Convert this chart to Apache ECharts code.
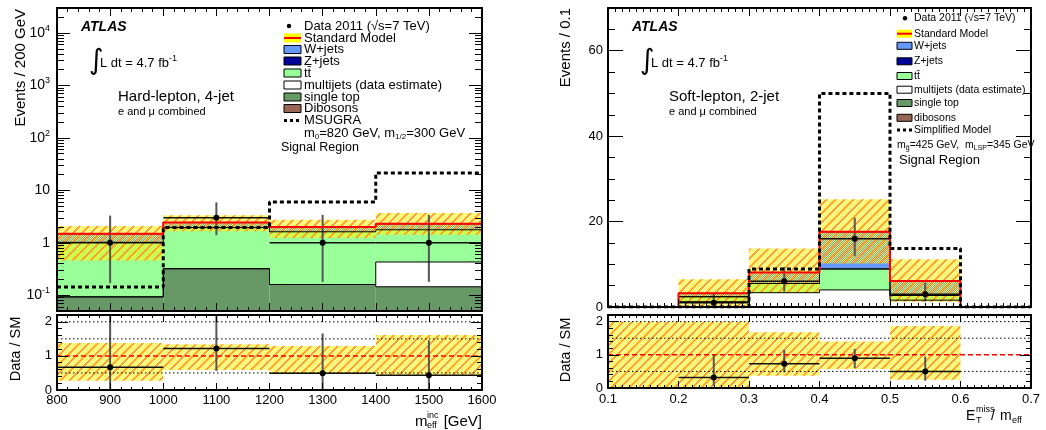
<!DOCTYPE html>
<html>
<head>
<meta charset="utf-8">
<script src="https://cdn.jsdelivr.net/npm/echarts@6/dist/echarts.min.js"></script>
<style>
html, body { margin: 0; padding: 0; background: #fff; }
#chart { width: 1046px; height: 430px; }
</style>
</head>
<body>
<div id="chart"></div>
<script>
// hard-lepton, 4-jet (left panel)
const hlEdges = [800, 1000, 1200, 1400, 1600];
const hlSingleTop = [0.093, 0.32, 0.16, 0.145];
const hlMultijets = [0, 0, 0, 0.285];
const hlTtbar = [0.927, 1.63, 1.46, 1.34];
const hlWjets = [0.46, 0.49, 0.38, 0.53];
const hlBandLo = [0.46, 1.65, 1.23, 1.42];
const hlBandHi = [2.1, 3.35, 2.74, 3.68];
const hlSignal = [0.143, 1.95, 6.0, 21.5];
const hlData = [1, 3, 1, 1];
const hlDataLo = [0.17, 1.4, 0.18, 0.18];
const hlDataHi = [3.3, 5.9, 3.4, 3.4];
const hlRatio = [0.67, 1.22, 0.49, 0.43];
const hlRatioLo = [0, 0.56, 0, 0];
const hlRatioHi = [2.5, 2.5, 1.66, 1.46];
const hlRatioBandLo = [0.27, 0.59, 0.49, 0.42];
const hlRatioBandHi = [1.38, 1.34, 1.29, 1.61];

// soft-lepton, 2-jet (right panel)
const slEdges = [0.1, 0.2, 0.3, 0.4, 0.5, 0.6, 0.7];
const slMultijets = [0, 1.25, 3.35, 4.0, 1.6, 0];
const slTtbar = [0, 1.15, 2.15, 4.9, 1.1, 0];
const slZjets = [0, 0, 0, 0, 0, 0];
const slWjets = [0, 0.8, 2.6, 8.7, 3.4, 0];
const slBandLo = [null, 0, 3.3, 10.2, 1.25, null];
const slBandHi = [null, 6.5, 13.7, 25.2, 11.2, null];
const slSignal = [0, 0, 8.9, 50, 13.7, 0];
const slData = [null, 1, 6, 16, 3, null];
const slDataLo = [null, 0.17, 3.6, 11.9, 1.3, null];
const slDataHi = [null, 3.3, 9.4, 20.9, 5.7, null];
const slRatio = [null, 0.32, 0.73, 0.9, 0.5, null];
const slRatioLo = [null, 0.07, 0.47, 0.6, 0.22, null];
const slRatioHi = [null, 1.0, 1.15, 1.18, 0.95, null];
const slRatioBandLo = [0, 0, 0.37, 0.57, 0.25, null];
const slRatioBandHi = [2.0, 2.0, 1.68, 1.4, 1.87, null];

// ticks
const hlYTicks = [0.1, 1, 10, 100, 1000, 10000];
const hlYTickText = ['10{s|-1}', '1', '10', '10{s|2}', '10{s|3}', '10{s|4}'];
const slYTicks = [0, 20, 40, 60];
const slYMinor = [5, 10, 15, 25, 30, 35, 45, 50, 55, 65];
const ratioTicks = [0, 1, 2];
const ratioMinor = [0.2, 0.4, 0.6, 0.8, 1.2, 1.4, 1.6, 1.8];
const ratioGuides = [0.5, 1.5, 2];
const ratioUnity = 1;

const hlYMinor = [];
[0.01, 0.1, 1, 10, 100, 1000, 10000].forEach(d => {
  [2, 3, 4, 5, 6, 7, 8, 9].forEach(m => {
    const v = +(d * m).toPrecision(3);
    if (v > 0.05 && v < 30000) hlYMinor.push(v);
  });
});

const FONT = '"Liberation Sans", Arial, Helvetica, sans-serif';
const stackColors = { singleTop: '#669966', multijets: '#ffffff', ttbar: '#99ff99', zjets: '#000099', wjets: '#6699ff', dibosons: '#996655' };

// yellow checker dots with orange diagonal hatching, transparent in between
function makeHatch() {
  const c = document.createElement('canvas');
  c.width = 18; c.height = 18;
  const g = c.getContext('2d');
  g.fillStyle = '#ffff00';
  for (let y = 0; y < 18; y++) {
    for (let x = y % 2; x < 18; x += 2) g.fillRect(x, y, 1, 1);
  }
  g.strokeStyle = '#ff9430';
  g.lineWidth = 1.6;
  g.beginPath();
  [[-1, 1, 1, -1], [-1, 10, 10, -1], [-1, 19, 19, -1], [8, 19, 19, 8], [17, 19, 19, 17]].forEach(s => {
    g.moveTo(s[0], s[1]); g.lineTo(s[2], s[3]);
  });
  g.stroke();
  return c;
}
const hatch = { image: makeHatch(), repeat: 'repeat' };

function cumulate(parts) {
  const out = [];
  let run = parts[0].map(() => 0);
  parts.forEach(p => {
    run = run.map((v, i) => v + p[i]);
    out.push(run);
  });
  return out;
}

function binBoxes(edges, lo, hi) {
  const out = [];
  for (let i = 0; i < edges.length - 1; i++) {
    if (lo[i] == null || hi[i] == null || hi[i] <= lo[i]) continue;
    out.push([edges[i], edges[i + 1], lo[i], hi[i]]);
  }
  return out;
}

function stepData(edges, vals) {
  const out = vals.map((v, i) => [edges[i], v]);
  out.push([edges[edges.length - 1], vals[vals.length - 1]]);
  return out;
}

function points(edges, v, lo, hi) {
  const out = [];
  for (let i = 0; i < edges.length - 1; i++) {
    if (v[i] == null) continue;
    out.push([edges[i], edges[i + 1], v[i], lo[i], hi[i]]);
  }
  return out;
}

function boxRenderer(fill, floor, ceil) {
  return function (params, api) {
    const y0 = Math.min(Math.max(api.value(2), floor), ceil);
    const y1 = Math.min(Math.max(api.value(3), floor), ceil);
    const a = api.coord([api.value(0), y0]);
    const b = api.coord([api.value(1), y1]);
    return {
      type: 'rect',
      shape: { x: a[0], y: b[1], width: b[0] - a[0], height: a[1] - b[1] },
      style: { fill: fill }
    };
  };
}

function pointRenderer(floor, ceil) {
  const c = v => Math.min(Math.max(v, floor), ceil);
  return function (params, api) {
    const x0 = api.value(0), x1 = api.value(1);
    const xc = (x0 + x1) / 2;
    const v = c(api.value(2));
    const pc = api.coord([xc, v]);
    const pl = api.coord([x0, v]);
    const pr = api.coord([x1, v]);
    const plo = api.coord([xc, c(api.value(3))]);
    const phi = api.coord([xc, c(api.value(4))]);
    return {
      type: 'group',
      children: [
        { type: 'line', shape: { x1: pc[0], y1: plo[1], x2: pc[0], y2: phi[1] }, style: { stroke: '#555', lineWidth: 2 } },
        { type: 'line', shape: { x1: pl[0], y1: pl[1], x2: pr[0], y2: pr[1] }, style: { stroke: '#111', lineWidth: 1.5 } },
        { type: 'circle', shape: { cx: pc[0], cy: pc[1], r: 3 }, style: { fill: '#000' } }
      ]
    };
  };
}

const series = [];
function addBoxes(xi, yi, data, fill, floor, ceil) {
  series.push({
    type: 'custom', xAxisIndex: xi, yAxisIndex: yi, clip: true, silent: true,
    encode: { x: [0, 1], y: [2, 3] },
    renderItem: boxRenderer(fill, floor, ceil),
    data: data
  });
}
function addStep(xi, yi, edges, vals, ls) {
  series.push({
    type: 'line', xAxisIndex: xi, yAxisIndex: yi, step: 'end', symbol: 'none',
    silent: true, lineStyle: ls, data: stepData(edges, vals)
  });
}
function addPoints(xi, yi, data, floor, ceil) {
  series.push({
    type: 'custom', xAxisIndex: xi, yAxisIndex: yi, clip: true, silent: true,
    encode: { x: [0, 1], y: [2, 3, 4] },
    renderItem: pointRenderer(floor, ceil),
    data: data
  });
}
function addStack(xi, yi, edges, parts, colors, floor, ceil) {
  const cum = cumulate(parts);
  cum.forEach((top, k) => {
    const base = k === 0 ? top.map(() => 0) : cum[k - 1];
    addBoxes(xi, yi, binBoxes(edges, base, top), colors[k], floor, ceil);
  });
  cum.forEach(top => addStep(xi, yi, edges, top, { color: '#000', width: 1 }));
  return cum[cum.length - 1];
}
function addGuides(xi, yi, xr) {
  ratioGuides.forEach(g => {
    series.push({
      type: 'line', xAxisIndex: xi, yAxisIndex: yi, symbol: 'none', silent: true,
      lineStyle: { color: '#000', width: 1, type: [1.5, 2.5] }, data: [[xr[0], g], [xr[1], g]]
    });
  });
  series.push({
    type: 'line', xAxisIndex: xi, yAxisIndex: yi, symbol: 'none', silent: true,
    lineStyle: { color: '#ff0000', width: 1.5, type: [5, 3] }, data: [[xr[0], ratioUnity], [xr[1], ratioUnity]]
  });
}

// axes (fresh option objects for every axis)
const xAxes = [], yAxes = [];
function tickOpt(len, custom) {
  const o = { show: true, inside: true, length: len, lineStyle: { color: '#000', width: 1 } };
  if (custom) o.customValues = custom;
  return o;
}
function lineOpt(show) {
  return { show: show, onZero: false, lineStyle: { color: '#000', width: 2 } };
}

function addX(grid, min, max, interval, split, majorLen, minorLen, labels) {
  const make = (pos, withLabels) => ({
    type: 'value', gridIndex: grid, position: pos, min: min, max: max, interval: interval, z: 5,
    axisLine: lineOpt(true),
    splitLine: { show: false },
    axisTick: tickOpt(majorLen),
    minorTick: { show: true, splitNumber: split, length: minorLen, lineStyle: { color: '#000', width: 1 } },
    axisLabel: withLabels ? {
      show: true, margin: labels, color: '#000', fontSize: 13, fontFamily: FONT,
      formatter: v => String(Math.round(v * 100) / 100)
    } : { show: false }
  });
  xAxes.push(make('bottom', labels > 0));
  const idx = xAxes.length - 1;
  xAxes.push(make('top', false));
  return idx;
}

function addY(grid, type, min, max, majors, minors, majorLen, minorLen, label) {
  const make = (pos, isMajor) => {
    const o = {
      type: type, gridIndex: grid, position: pos, min: min, max: max, z: 5,
      splitLine: { show: false }, minorTick: { show: false },
      axisLine: lineOpt(isMajor),
      axisTick: tickOpt(isMajor ? majorLen : minorLen, isMajor ? majors : minors),
      axisLabel: { show: false }
    };
    if (type === 'log') o.logBase = 10;
    if (isMajor && pos === 'left') {
      o.axisLabel = Object.assign({ show: true, customValues: majors, color: '#000', fontFamily: FONT }, label());
    }
    return o;
  };
  yAxes.push(make('left', true));
  const idx = yAxes.length - 1;
  yAxes.push(make('left', false), make('right', true), make('right', false));
  return idx;
}

const hlYRange = [0.05, 30000];
const slYRange = [0, 70];
const ratioRange = [0, 2.2];

const hlX = addX(0, 800, 1600, 100, 5, 8, 4, 0);
const hlY = addY(0, 'log', hlYRange[0], hlYRange[1], hlYTicks, hlYMinor, 13, 7, () => ({
  margin: 7, fontSize: 14,
  formatter: v => hlYTickText[hlYTicks.indexOf(+v)] || '',
  rich: { s: { fontSize: 9, fontFamily: FONT, color: '#000', padding: [0, 0, 9, 0] } }
}));
const hlRX = addX(1, 800, 1600, 100, 5, 7, 3, 4);
const hlRY = addY(1, 'value', ratioRange[0], ratioRange[1], ratioTicks, ratioMinor, 11, 5, () => ({ margin: 5, fontSize: 13 }));
const slX = addX(2, 0.1, 0.7, 0.1, 10, 8, 4, 0);
const slY = addY(2, 'value', slYRange[0], slYRange[1], slYTicks, slYMinor, 15, 7, () => ({ margin: 5, fontSize: 13 }));
const slRX = addX(3, 0.1, 0.7, 0.1, 10, 7, 3, 5);
const slRY = addY(3, 'value', ratioRange[0], ratioRange[1], ratioTicks, ratioMinor, 11, 5, () => ({ margin: 5, fontSize: 13 }));

// left main
const hlSM = addStack(hlX, hlY, hlEdges, [hlSingleTop, hlMultijets, hlTtbar, hlWjets],
  [stackColors.singleTop, stackColors.multijets, stackColors.ttbar, stackColors.wjets], hlYRange[0], hlYRange[1]);
addBoxes(hlX, hlY, binBoxes(hlEdges, hlBandLo, hlBandHi), hatch, hlYRange[0], hlYRange[1]);
addStep(hlX, hlY, hlEdges, hlSM, { color: '#ff0000', width: 2 });
addStep(hlX, hlY, hlEdges, hlSignal, { color: '#000', width: 3, type: [4, 3] });
addPoints(hlX, hlY, points(hlEdges, hlData, hlDataLo, hlDataHi), hlYRange[0], hlYRange[1]);

// left ratio
addBoxes(hlRX, hlRY, binBoxes(hlEdges, hlRatioBandLo, hlRatioBandHi), hatch, ratioRange[0], ratioRange[1]);
addGuides(hlRX, hlRY, [800, 1600]);
addPoints(hlRX, hlRY, points(hlEdges, hlRatio, hlRatioLo, hlRatioHi), ratioRange[0], ratioRange[1]);

// right main
const slSM = addStack(slX, slY, slEdges, [slMultijets, slTtbar, slZjets, slWjets],
  [stackColors.multijets, stackColors.ttbar, stackColors.zjets, stackColors.wjets], slYRange[0], slYRange[1]);
addBoxes(slX, slY, binBoxes(slEdges, slBandLo, slBandHi), hatch, slYRange[0], slYRange[1]);
addStep(slX, slY, slEdges, slSM, { color: '#ff0000', width: 2 });
addStep(slX, slY, slEdges, slSignal, { color: '#000', width: 3, type: [4, 3] });
addPoints(slX, slY, points(slEdges, slData, slDataLo, slDataHi), slYRange[0], slYRange[1]);

// right ratio
addBoxes(slRX, slRY, binBoxes(slEdges, slRatioBandLo, slRatioBandHi), hatch, ratioRange[0], ratioRange[1]);
addGuides(slRX, slRY, [0.1, 0.7]);
addPoints(slRX, slRY, points(slEdges, slRatio, slRatioLo, slRatioHi), ratioRange[0], ratioRange[1]);

// text and legends
function txt(x, y, text, size, extra) {
  return {
    type: 'text', x: x, y: y, silent: true,
    style: Object.assign({ text: text, fontSize: size, fontFamily: FONT, fill: '#000', align: 'left', verticalAlign: 'middle' }, extra || {})
  };
}
function box(x, y, w, h, fill) {
  return { type: 'rect', silent: true, shape: { x: x, y: y, width: w, height: h }, style: { fill: fill, stroke: '#000', lineWidth: 1 } };
}
function seg(x1, y1, x2, y2, stroke, width, dash) {
  return { type: 'line', silent: true, shape: { x1: x1, y1: y1, x2: x2, y2: y2 }, style: { stroke: stroke, lineWidth: width, lineDash: dash || null } };
}
function dot(x, y, r) {
  return { type: 'circle', silent: true, shape: { cx: x, cy: y, r: r }, style: { fill: '#000' } };
}
const supRich = { a: { fontSize: 13, fontFamily: FONT }, b: { fontSize: 9, fontFamily: FONT, padding: [0, 0, 8, 0] } };
const ttbar = 't' + 't\u0304';

function legend(o) {
  const els = [];
  const bx = o.x, bw = o.w, bh = o.h, tx = o.tx, fs = o.fs, r = o.rows;
  els.push(dot(o.dotX, r[0], 2.2), txt(tx, r[0], 'Data 2011 (\u221As=7 TeV)', fs));
  els.push({ type: 'rect', silent: true, shape: { x: bx, y: r[1] - bh / 2 - 0.5, width: bw, height: bh + 1 }, style: { fill: '#ffff00' } });
  els.push(seg(bx, r[1], bx + bw, r[1], '#ff0000', 2), txt(tx, r[1], 'Standard Model', fs));
  const names = ['W+jets', 'Z+jets', ttbar, 'multijets (data estimate)', 'single top', o.dibosons];
  const fills = [stackColors.wjets, stackColors.zjets, stackColors.ttbar, stackColors.multijets, stackColors.singleTop, stackColors.dibosons];
  names.forEach((n, i) => {
    els.push(box(bx, r[i + 2] - bh / 2, bw, bh, fills[i]), txt(tx, r[i + 2], n, fs));
  });
  els.push(seg(bx, r[8], bx + bw, r[8], '#000', 3, [3, 3]), txt(tx, r[8], o.signal, fs));
  els.push(txt(o.massX, r[9], o.mass, fs, { rich: o.massRich }));
  els.push(txt(o.srX, r[10], 'Signal Region', o.srFs));
  return els;
}

const graphics = [].concat(
  // left panel labels
  txt(81, 27, 'ATLAS', 14, { fontWeight: 'bold', fontStyle: 'italic' }),
  txt(89, 62, '\u222B', 28, { fontFamily: '"DejaVu Sans", sans-serif' }),
  txt(100, 63, '{a|L dt = 4.7 fb}{b|-1}', 13, { rich: supRich }),
  txt(118, 97, 'Hard-lepton, 4-jet', 15),
  txt(118, 112, 'e and \u03BC combined', 11),
  legend({
    x: 284, w: 17, h: 8, tx: 304, fs: 13, dotX: 289,
    rows: [26, 38, 49.5, 61, 73, 85, 97, 108.5, 120.5, 133, 148],
    dibosons: 'Dibosons', signal: 'MSUGRA',
    massX: 304, mass: '{t|m}{s|0}{t|=820 GeV, m}{s|1/2}{t|=300 GeV}',
    massRich: { t: { fontSize: 13, fontFamily: FONT }, s: { fontSize: 8, fontFamily: FONT, padding: [7, 0, 0, 0] } },
    srX: 281, srFs: 12.5
  }),
  // right panel labels
  txt(632, 27, 'ATLAS', 14, { fontWeight: 'bold', fontStyle: 'italic' }),
  txt(640, 62, '\u222B', 28, { fontFamily: '"DejaVu Sans", sans-serif' }),
  txt(651, 63, '{a|L dt = 4.7 fb}{b|-1}', 13, { rich: supRich }),
  txt(669, 97, 'Soft-lepton, 2-jet', 15),
  txt(669, 112, 'e and \u03BC combined', 11),
  legend({
    x: 897, w: 15, h: 7, tx: 914, fs: 10.5, dotX: 905,
    rows: [18.3, 33.7, 45.8, 61.3, 76, 89.7, 103, 117.8, 130, 145, 160.7],
    dibosons: 'dibosons', signal: 'Simplified Model',
    massX: 897, mass: '{t|m}{s|g\u0303}{t|=425 GeV,  m}{s|LSP}{t|=345 GeV}',
    massRich: { t: { fontSize: 10.5, fontFamily: FONT }, s: { fontSize: 7, fontFamily: FONT, padding: [6, 0, 0, 0] } },
    srX: 899, srFs: 13
  }),
  // axis titles
  { type: 'text', x: 21, y: 9, rotation: Math.PI / 2, silent: true, style: { text: 'Events / 200 GeV', fontSize: 15, fontFamily: FONT, fill: '#000', align: 'right', verticalAlign: 'middle' } },
  { type: 'text', x: 566, y: 8, rotation: Math.PI / 2, silent: true, style: { text: 'Events / 0.1', fontSize: 15, fontFamily: FONT, fill: '#000', align: 'right', verticalAlign: 'middle' } },
  { type: 'text', x: 16, y: 349, rotation: Math.PI / 2, silent: true, style: { text: 'Data / SM', fontSize: 14.5, fontFamily: FONT, fill: '#000', align: 'center', verticalAlign: 'middle' } },
  { type: 'text', x: 566, y: 350, rotation: Math.PI / 2, silent: true, style: { text: 'Data / SM', fontSize: 14.5, fontFamily: FONT, fill: '#000', align: 'center', verticalAlign: 'middle' } },
  txt(482, 422, '[GeV]', 15, { align: 'right' }),
  txt(415, 422, 'm', 15),
  txt(427, 416, 'inc', 9),
  txt(427, 426, 'eff', 9),
  txt(966, 416, 'E', 14),
  txt(976, 410, 'miss', 9),
  txt(976, 421, 'T', 9),
  txt(991, 416, '/', 14),
  txt(1000, 416, 'm', 14),
  txt(1012, 421, 'eff', 9)
);

const chart = echarts.init(document.getElementById('chart'), null, { renderer: 'canvas' });
chart.setOption({
  animation: false,
  backgroundColor: '#fff',
  textStyle: { fontFamily: FONT },
  grid: [
    { left: 57, top: 8, width: 425, height: 303 },
    { left: 57, top: 315, width: 425, height: 75 },
    { left: 608, top: 8, width: 423, height: 299 },
    { left: 608, top: 315, width: 423, height: 73 }
  ],
  xAxis: xAxes,
  yAxis: yAxes,
  series: series,
  graphic: graphics
});
</script>
</body>
</html>
